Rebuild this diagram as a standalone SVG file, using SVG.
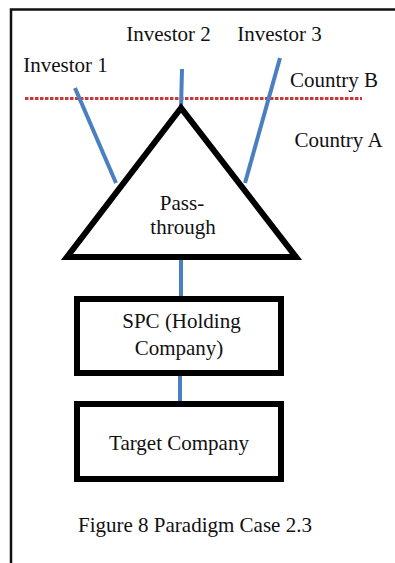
<svg xmlns="http://www.w3.org/2000/svg" width="395" height="563" viewBox="0 0 395 563">
<style>
text{font-family:"Liberation Serif","Times New Roman",serif;font-size:21px;fill:#111;text-anchor:middle}
.blue{stroke:#4a7fc1;stroke-width:4;fill:none}
.box{fill:#fff;stroke:#000;stroke-width:6}
</style>
<rect width="395" height="563" fill="#fff"/>
<g id="frame"><path d="M11 563 V9.5 H395" fill="none" stroke="#111" stroke-width="2.5"/></g>
<g id="border-line"><line x1="25" y1="98.5" x2="362" y2="98.5" stroke="#c83a3a" stroke-width="3" stroke-dasharray="3.5 1.5"/></g>
<g id="connectors">
<line class="blue" x1="75" y1="88" x2="116" y2="183"/>
<line class="blue" x1="182" y1="69" x2="181" y2="108"/>
<line class="blue" x1="280" y1="58" x2="245" y2="183"/>
<line class="blue" x1="181" y1="260" x2="181" y2="298"/>
<line class="blue" x1="180" y1="376" x2="180" y2="402"/>
</g>
<g id="labels">
<text x="65.5" y="72">Investor 1</text>
<text x="168.5" y="41">Investor 2</text>
<text x="279.5" y="41">Investor 3</text>
<text x="334" y="87">Country B</text>
<text x="338.5" y="147">Country A</text>
</g>
<g id="pass-through">
<polygon points="181,108 67,257 296,257" fill="none" stroke="#000" stroke-width="6" stroke-linejoin="miter"/>
<text x="182" y="210">Pass-</text>
<text x="183" y="234">through</text>
</g>
<g id="spc">
<rect class="box" x="77" y="299" width="204" height="74"/>
<text x="181.5" y="328">SPC (Holding</text>
<text x="179" y="355">Company)</text>
</g>
<g id="target">
<rect class="box" x="77" y="404" width="204" height="75"/>
<text x="179" y="450">Target Company</text>
</g>
<g id="caption"><text x="195" y="532">Figure 8 Paradigm Case 2.3</text></g>
</svg>
